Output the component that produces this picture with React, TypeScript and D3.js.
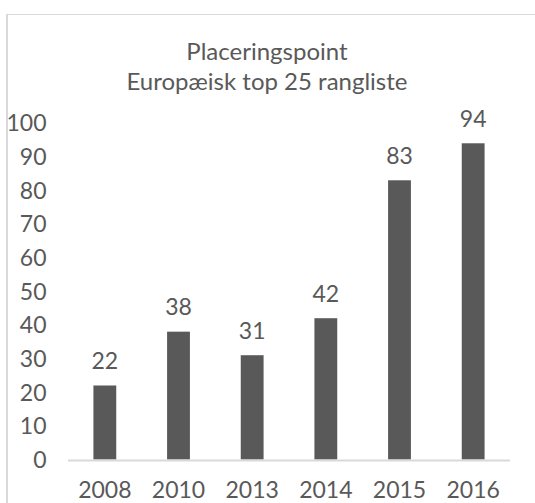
import React from "react";
import { scaleBand, scaleLinear, range } from "d3";

const years = ["2008", "2010", "2013", "2014", "2015", "2016"];
const points = [22, 38, 31, 42, 83, 94];
const yTicks = range(0, 101, 10);
const titleLines = ["Placeringspoint", "Europæisk top 25 rangliste"];

const W = 535;
const H = 503;
const FONT = "Lato, 'Open Sans', sans-serif";
const GREY = "#595959";

export default function App() {
  const x = scaleBand<string>()
    .domain(years)
    .range([68, 510])
    .paddingInner(0.69)
    .paddingOuter(0.345);

  const y = scaleLinear().domain([0, 100]).range([459.5, 123.1]);

  return (
    <div style={{ position: "fixed", left: 0, top: 0 }}>
      <svg width={W} height={H} style={{ display: "block", background: "#fff" }}>
        {/* chart frame, cropped at right and bottom */}
        <line x1={7} x2={W} y1={14.5} y2={14.5} stroke="#d9d9d9" strokeWidth={1} />
        <line x1={7} x2={7} y1={14} y2={H} stroke="#d9d9d9" strokeWidth={2} />

        {/* title */}
        <text textAnchor="middle" fill={GREY} fontFamily={FONT} fontSize={24}>
          {titleLines.map((t, i) => (
            <tspan key={i} x={267} y={59.5 + i * 30}>
              {t}
            </tspan>
          ))}
        </text>

        {/* y tick labels */}
        {yTicks.map((t) => (
          <text
            key={t}
            x={46.5}
            y={y(t)}
            dy="0.36em"
            textAnchor="end"
            fill={GREY}
            fontFamily={FONT}
            fontSize={23}
          >
            {t}
          </text>
        ))}

        {/* bars */}
        {years.map((yr, i) => (
          <rect
            key={yr}
            x={x(yr)}
            y={y(points[i])}
            width={x.bandwidth()}
            height={y(0) - y(points[i])}
            fill={GREY}
          />
        ))}

        {/* baseline */}
        <line x1={68} x2={510} y1={460.5} y2={460.5} stroke="#d9d9d9" strokeWidth={2} />

        {/* value labels */}
        {years.map((yr, i) => (
          <text
            key={yr}
            x={(x(yr) ?? 0) + x.bandwidth() / 2}
            y={y(points[i]) - 16.5}
            textAnchor="middle"
            fill={GREY}
            fontFamily={FONT}
            fontSize={23}
          >
            {points[i]}
          </text>
        ))}

        {/* x labels */}
        {years.map((yr) => (
          <text
            key={yr}
            x={(x(yr) ?? 0) + x.bandwidth() / 2}
            y={498}
            textAnchor="middle"
            fill={GREY}
            fontFamily={FONT}
            fontSize={23}
          >
            {yr}
          </text>
        ))}
      </svg>
    </div>
  );
}
